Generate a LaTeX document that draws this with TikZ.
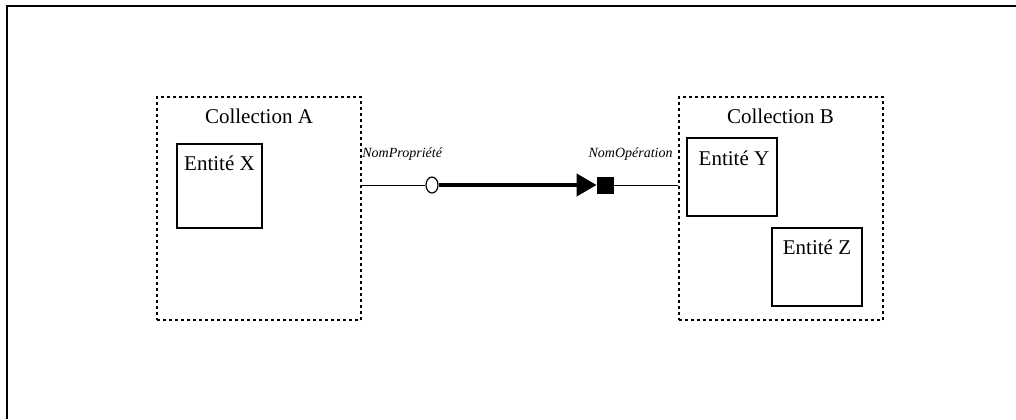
\documentclass[tikz,border=0pt]{standalone}
\usepackage{fontspec}
\setmainfont{Liberation Serif}
\usetikzlibrary{arrows.meta,shapes.geometric}

\tikzset{
  collbox/.style={draw, line width=1pt, dash pattern=on 1.5pt off 1.5pt,
    minimum width=102pt, minimum height=111.5pt, inner sep=0pt},
  entbox/.style={draw, line width=0.6pt, inner sep=0pt},
  rolelbl/.style={font=\fontsize{7}{8}\selectfont\itshape, inner sep=0pt},
}

\begin{document}
\begin{tikzpicture}[x=0.5pt, y=-0.5pt, font=\fontsize{10.5}{12}\selectfont]
  \useasboundingbox (0,0) rectangle (1016,419);
  \draw[line width=1pt] (7,419) -- (7,6) -- (1016,6);
  % collections
  \node[collbox] (collA) at (259,208.5) {};
  \node[collbox] (collB) at (780.5,208.5) {};
  \node[anchor=base, inner sep=0pt] (collAtxt) at (259,123) {Collection A};
  \node[anchor=base, inner sep=0pt] (collBtxt) at (780.5,123) {Collection B};
  % entities
  \node[entbox, minimum width=42.5pt, minimum height=42pt] (entX) at (219.5,186) {};
  \node[entbox, minimum width=45pt, minimum height=39pt] (entY) at (732,177) {};
  \node[entbox, minimum width=45pt, minimum height=39pt] (entZ) at (817,267) {};
  \node[anchor=base, inner sep=0pt] (entXtxt) at (219.5,170) {Entité X};
  \node[anchor=base, inner sep=0pt] (entYtxt) at (734,165) {Entité Y};
  \node[anchor=base, inner sep=0pt] (entZtxt) at (817,254) {Entité Z};
  % link
  \node[draw, ellipse, line width=0.6pt, fill=white, minimum width=6pt,
    minimum height=8pt, inner sep=0pt] (prop) at (432,185) {};
  \node[fill=black, minimum size=8.5pt, inner sep=0pt] (op) at (605.5,185) {};
  \draw[line width=0.5pt] (collA.east |- prop.west) -- (prop.west);
  \draw[line width=2pt, -{Triangle[length=10pt,width=11pt]}] (prop.east) -- (op.west);
  \draw[line width=0.5pt] (op.east) -- (collB.west |- op.east);
  \node[rolelbl, anchor=base west] (proplbl) at (362,157) {NomPropriété};
  \node[rolelbl, anchor=base east] (oplbl) at (673,157) {NomOpération};
\end{tikzpicture}
\end{document}
